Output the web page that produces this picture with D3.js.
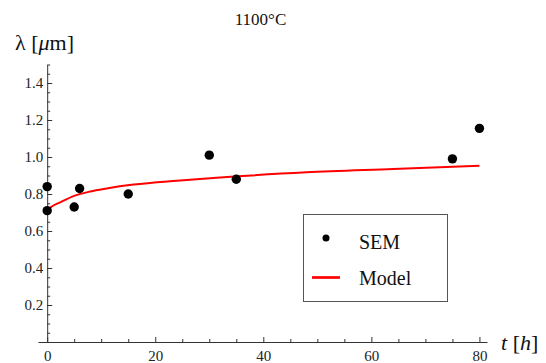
<!DOCTYPE html>
<html><head><meta charset="utf-8">
<script src="https://cdn.jsdelivr.net/npm/d3@7"></script>
<style>
body{margin:0;background:#fff;}
svg text{font-family:"Liberation Serif","Times New Roman",serif !important;}
</style></head>
<body>
<svg id="c" width="546" height="363"></svg>
<script>
const semT = [0, 0, 5, 6, 15, 30, 35, 75, 80];
const semL = [0.71, 0.84, 0.73, 0.83, 0.80, 1.01, 0.88, 0.99, 1.155];
const modelT = [0, 0.5, 1, 2.4, 5, 8, 11, 16, 24, 32, 48, 64, 80];
const modelL = [0.710, 0.724, 0.735, 0.755, 0.790, 0.814, 0.830, 0.851, 0.872, 0.889, 0.917, 0.935, 0.953];
const xMajor = [0, 20, 40, 60, 80];
const xMinor = [5, 10, 15, 25, 30, 35, 45, 50, 55, 65, 70, 75];
const yMajor = [0.2, 0.4, 0.6, 0.8, 1.0, 1.2, 1.4];
const yMinor = [0.05,0.1,0.15,0.25,0.3,0.35,0.45,0.5,0.55,0.65,0.7,0.75,0.85,0.9,0.95,1.05,1.1,1.15,1.25,1.3,1.35,1.45,1.5];
const title = "1100°C";
const legendLabels = ["SEM", "Model"];

const svg = d3.select("#c");
const x = d3.scaleLinear().domain([-1.7, 81.4]).range([38, 487]);
const y = d3.scaleLinear().domain([0, 1.5]).range([342, 64.5]);
const axisColor = "#333";

// x axis
const gx = svg.append("g").attr("transform", `translate(0,${y(0)})`);
gx.call(d3.axisBottom(x).tickValues(xMajor).tickSizeInner(-5).tickSizeOuter(0).tickPadding(8.5).tickFormat(d3.format("d")));
const gxm = svg.append("g").attr("transform", `translate(0,${y(0)})`);
gxm.call(d3.axisBottom(x).tickValues(xMinor).tickSizeInner(-3).tickSizeOuter(0).tickFormat(""));
gxm.select(".domain").remove();

// y axis
const gy = svg.append("g").attr("transform", `translate(${x(0)},0)`);
gy.call(d3.axisLeft(y).tickValues(yMajor).tickSizeInner(-5).tickSizeOuter(0).tickPadding(4).tickFormat(d3.format(".1f")));
const gym = svg.append("g").attr("transform", `translate(${x(0)},0)`);
gym.call(d3.axisLeft(y).tickValues(yMinor).tickSizeInner(-3).tickSizeOuter(0).tickFormat(""));
gym.select(".domain").remove();

svg.selectAll("g").attr("font-family", null);
svg.selectAll(".domain").attr("stroke", axisColor).attr("stroke-width", 1);
svg.selectAll(".tick line").attr("stroke", axisColor).attr("stroke-width", 1);
svg.selectAll(".tick text").attr("font-size", 15).attr("fill", "#222");

// axis labels
const yl = svg.append("text").attr("x", 15).attr("y", 50).attr("font-size", 22).attr("fill", "#111");
yl.append("tspan").text("λ [");
yl.append("tspan").attr("font-style", "italic").text("μ");
yl.append("tspan").text("m]");
const xl = svg.append("text").attr("x", 501).attr("y", 350).attr("font-size", 22).attr("fill", "#111");
xl.append("tspan").attr("font-style", "italic").text("t");
xl.append("tspan").text(" [");
xl.append("tspan").attr("font-style", "italic").text("h");
xl.append("tspan").text("]");

// title
svg.append("text").attr("x", 260.5).attr("y", 25).attr("text-anchor", "middle").attr("font-size", 17).attr("fill", "#111").text(title);

// model line
const modelData = modelT.map((t, i) => [t, modelL[i]]);
svg.append("path").datum(modelData)
  .attr("d", d3.line().x(d => x(d[0])).y(d => y(d[1])).curve(d3.curveMonotoneX))
  .attr("fill", "none").attr("stroke", "#f00").attr("stroke-width", 2);

// points
svg.append("g").selectAll("circle").data(semT.map((t, i) => [t, semL[i]])).join("circle")
  .attr("cx", d => x(d[0])).attr("cy", d => y(d[1])).attr("r", 4.7).attr("fill", "#000");

// legend
const lg = svg.append("g");
lg.append("rect").attr("x", 303.5).attr("y", 214.5).attr("width", 144).attr("height", 87)
  .attr("fill", "#fff").attr("stroke", "#555").attr("stroke-width", 1);
lg.append("circle").attr("cx", 326).attr("cy", 238).attr("r", 3.5).attr("fill", "#000");
lg.append("line").attr("x1", 312).attr("x2", 340).attr("y1", 277.5).attr("y2", 277.5).attr("stroke", "#f00").attr("stroke-width", 2.7);
lg.append("text").attr("x", 359).attr("y", 249).attr("font-size", 20).attr("fill", "#111").text(legendLabels[0]);
lg.append("text").attr("x", 359).attr("y", 285).attr("font-size", 20).attr("fill", "#111").text(legendLabels[1]);
</script>
</body></html>
